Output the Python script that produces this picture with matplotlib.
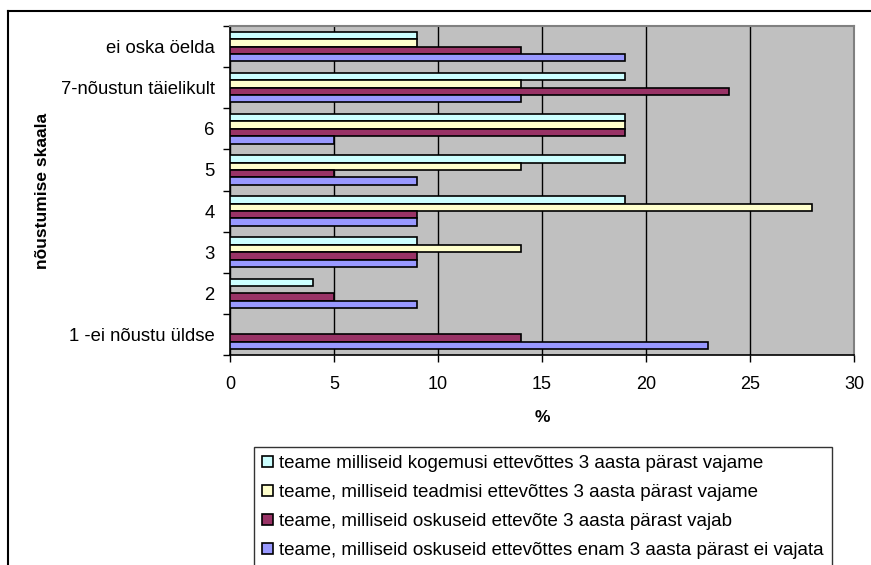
import matplotlib
matplotlib.use("Agg")
import matplotlib.pyplot as plt
from matplotlib.lines import Line2D
import numpy as np

plt.rcParams['font.family'] = ['Liberation Sans', 'DejaVu Sans']

# Agreement scale, bottom to top
categories = ["1 -ei nõustu üldse", "2", "3", "4", "5", "6",
              "7-nõustun täielikult", "ei oska öelda"]

series_labels = [
    "teame milliseid kogemusi ettevõttes 3 aasta pärast vajame",
    "teame, milliseid teadmisi ettevõttes 3 aasta pärast vajame",
    "teame, milliseid oskuseid ettevõte 3 aasta pärast vajab",
    "teame, milliseid oskuseid ettevõttes enam 3 aasta pärast ei vajata",
]

kogemusi = [0, 4, 9, 19, 19, 19, 19, 9]
teadmisi = [0, 0, 14, 28, 14, 19, 14, 9]
oskuseid_vajab = [14, 5, 9, 9, 5, 19, 24, 14]
ei_vajata = [23, 9, 9, 9, 9, 5, 14, 19]

series_values = [kogemusi, teadmisi, oskuseid_vajab, ei_vajata]
series_colors = ["#CCFFFF", "#FFFFCC", "#993366", "#9999FF"]

W, H = 871, 565
fig = plt.figure(figsize=(W / 100, H / 100), dpi=100)
ax = fig.add_axes([230 / W, 1 - 355 / H, (854 - 230) / W, (355 - 26) / H])
ax.set_facecolor("#C0C0C0")

y = np.arange(len(categories))
bh = 0.18
offsets = [1.5 * bh, 0.5 * bh, -0.5 * bh, -1.5 * bh]
for vals, col, off, lab in zip(series_values, series_colors, offsets, series_labels):
    ax.barh(y + off, vals, height=bh, color=col, edgecolor="black",
            linewidth=1.2, label=lab, zorder=3)

ax.set_xlim(0, 30)
ax.set_ylim(-0.5, len(categories) - 0.5)
ax.set_xticks(np.arange(0, 31, 5))
ax.set_yticks(y)
ax.set_yticklabels(categories)
ax.set_yticks(np.arange(-0.5, len(categories), 1), minor=True)
ax.tick_params(axis="y", which="major", length=0, pad=11, labelsize=13.3)
ax.tick_params(axis="y", which="minor", length=5, width=1, direction="out")
ax.tick_params(axis="x", length=5, width=1, direction="out", pad=10, labelsize=13)
ax.xaxis.grid(True, color="black", linewidth=1, zorder=1)
ax.set_axisbelow(True)

for side in ("top", "right"):
    ax.spines[side].set_color("#808080")
    ax.spines[side].set_linewidth(1.5)
for side in ("left", "bottom"):
    ax.spines[side].set_color("black")
    ax.spines[side].set_linewidth(1.2)

ax.set_xlabel("%", fontsize=12.5, fontweight="bold", labelpad=12)
ax.set_ylabel("nõustumise skaala", fontsize=12.5, fontweight="bold")
ax.yaxis.set_label_coords((50 - 230) / (854 - 230), 0.5)

# Legend (listed in series order)
handles, labels = ax.get_legend_handles_labels()
leg = fig.legend(handles, labels, loc="upper left",
                 bbox_to_anchor=(254 / W, 1 - 447 / H),
                 fontsize=13.5, frameon=True, fancybox=False,
                 edgecolor="black", handlelength=0.55, handleheight=0.55,
                 handletextpad=0.32, labelspacing=0.64, borderpad=0.45,
                 borderaxespad=0)
leg.get_frame().set_linewidth(1)

# Chart-area border (top and left edges)
fig.add_artist(Line2D([8 / W, 1], [1 - 11 / H, 1 - 11 / H],
                      transform=fig.transFigure, color="black", linewidth=1.5))
fig.add_artist(Line2D([8 / W, 8 / W], [0, 1 - 11 / H],
                      transform=fig.transFigure, color="black", linewidth=1.5))

fig.savefig("out.png", dpi=100, facecolor="white")
